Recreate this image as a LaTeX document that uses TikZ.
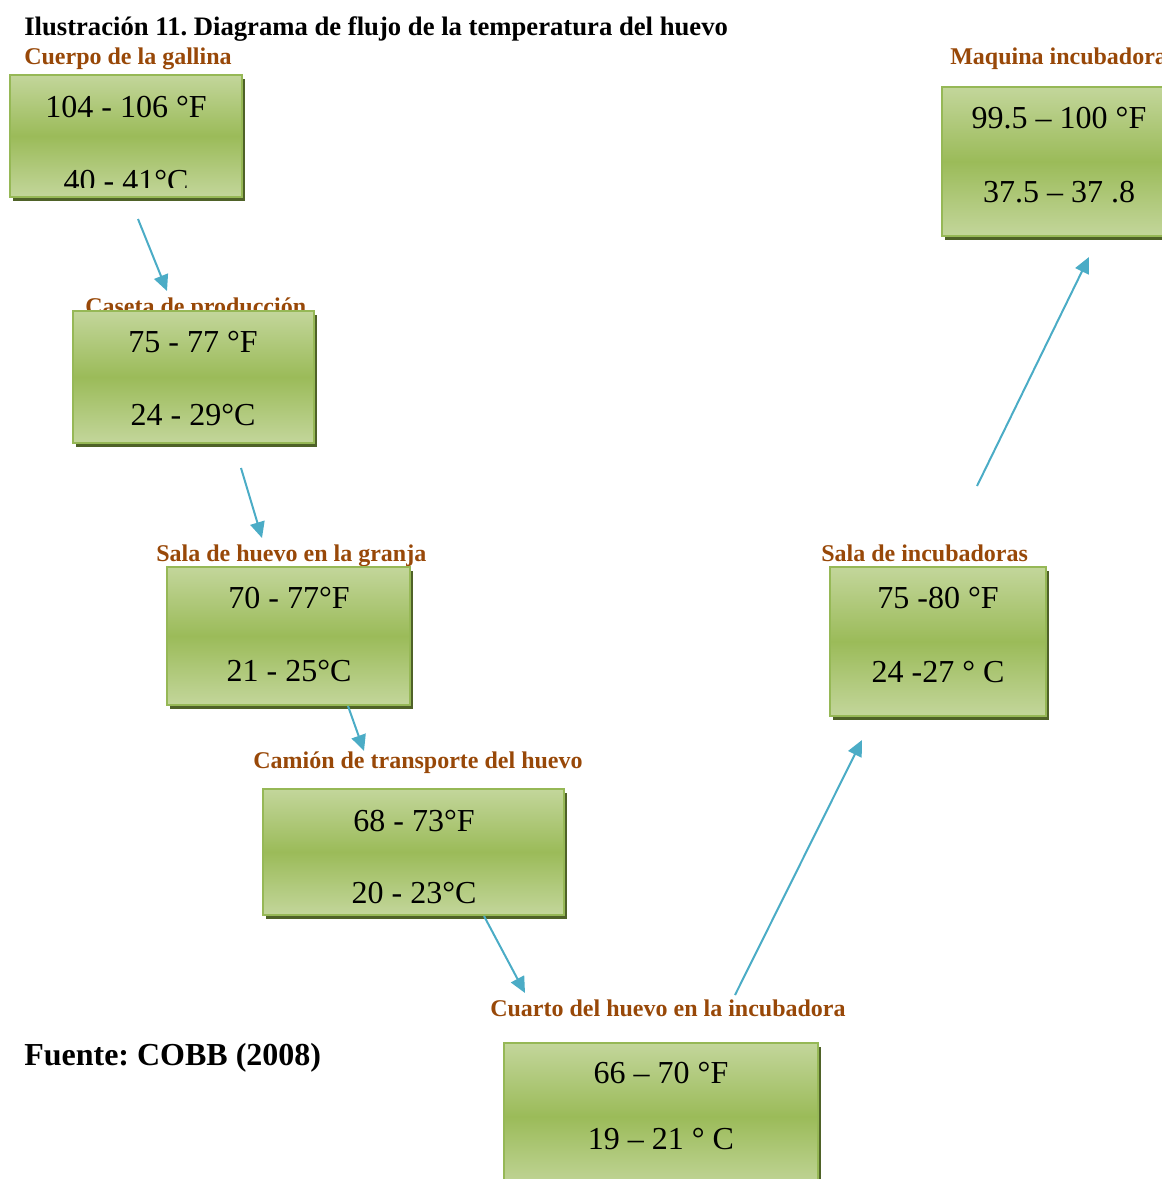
\documentclass[tikz,border=0pt]{standalone}
\usepackage{fontspec}
\setmainfont{Liberation Serif}
\frenchspacing
\usetikzlibrary{arrows.meta,fit,shadows}
\definecolor{brownlbl}{RGB}{152,72,8}
\definecolor{glight}{RGB}{195,214,155}
\definecolor{gdark}{RGB}{155,187,89}
\definecolor{gborder}{RGB}{150,184,86}
\definecolor{gshadow}{RGB}{79,98,40}
\definecolor{arrowc}{RGB}{75,172,198}
\tikzset{
  greenbox/.style={draw=gborder, line width=1.5pt, top color=glight, bottom color=glight, middle color=gdark, inner sep=0pt,
    drop shadow={shadow xshift=2.5pt, shadow yshift=-3pt, fill=gshadow, opacity=1}},
  boxlabel/.style={font=\fontsize{18}{20}\selectfont\bfseries, text=brownlbl, anchor=base west, inner sep=0pt},
  valtext/.style={font=\fontsize{24}{26}\selectfont, anchor=base, inner sep=0pt},
  flow/.style={draw=arrowc, line width=1.5pt, -{Triangle[length=12pt,width=11pt]}},
}
\begin{document}
\begin{tikzpicture}[x=0.75pt,y=-0.75pt]
\useasboundingbox (0,0) rectangle (1162,1179);
\clip (0,0) rectangle (1162,1179);
% title and source
\node[anchor=base west, inner sep=0pt, font=\fontsize{20}{22}\selectfont\bfseries] (title) at (24,35) {Ilustración 11. Diagrama de flujo de la temperatura del huevo};
\node[anchor=base west, inner sep=0pt, font=\fontsize{24}{27}\selectfont\bfseries] (fuente) at (24,1065) {Fuente: COBB (2008)};
% labels
\node[boxlabel] (l1) at (24,64) {Cuerpo de la gallina};
\node[boxlabel] (l2) at (85,314) {Caseta de producción};
\node[boxlabel] (l3) at (156,561) {Sala de huevo en la granja};
\node[boxlabel] (l4) at (253,768) {Camión de transporte del huevo};
\node[boxlabel] (l5) at (490,1016) {Cuarto del huevo en la incubadora};
\node[boxlabel] (l6) at (821,561) {Sala de incubadoras};
\node[boxlabel] (l7) at (950,64) {Maquina incubadora};
% boxes
\node[greenbox, fit={(10,75) (242,197)}] (b1) {};
\node[greenbox, fit={(73,311) (314,443)}] (b2) {};
\node[greenbox, fit={(167,567) (410,705)}] (b3) {};
\node[greenbox, fit={(263,789) (564,915)}] (b4) {};
\node[greenbox, fit={(504,1043) (818,1190)}] (b5) {};
\node[greenbox, fit={(830,567) (1046,716)}] (b6) {};
\node[greenbox, fit={(942,87) (1178,236)}] (b7) {};
% values
\node[valtext] (v1a) at (126,117) {104 - 106 °F};
\begin{scope}
\clip (10,75) rectangle (242,187);
\node[valtext] (v1b) at (126,191) {40 - 41°C};
\end{scope}
\node[valtext] (v2a) at (193,352) {75 - 77 °F};
\node[valtext] (v2b) at (193,425) {24 - 29°C};
\node[valtext] (v3a) at (289,608) {70 - 77°F};
\node[valtext] (v3b) at (289,681) {21 - 25°C};
\node[valtext] (v4a) at (414,831) {68 - 73°F};
\node[valtext] (v4b) at (414,903) {20 - 23°C};
\node[valtext] (v5a) at (661,1083) {66 – 70 °F};
\node[valtext] (v5b) at (661,1149) {19 – 21 ° C};
\node[valtext] (v6a) at (938,608) {75 -80 °F};
\node[valtext] (v6b) at (938,682) {24 -27 ° C};
\node[valtext] (v7a) at (1059,128) {99.5 – 100 °F};
\node[valtext] (v7b) at (1059,202) {37.5 – 37 .8};
% arrows
\coordinate (a1s) at (138,219); \coordinate (a1e) at (167,291);
\coordinate (a2s) at (241,468); \coordinate (a2e) at (262,538);
\coordinate (a3s) at (348,706); \coordinate (a3e) at (364,751);
\coordinate (a4s) at (484,916); \coordinate (a4e) at (525,993);
\coordinate (a5s) at (735,995); \coordinate (a5e) at (862,740);
\coordinate (a6s) at (977,486); \coordinate (a6e) at (1089,257);
\draw[flow] (a1s) -- (a1e);
\draw[flow] (a2s) -- (a2e);
\draw[flow] (a3s) -- (a3e);
\draw[flow] (a4s) -- (a4e);
\draw[flow] (a5s) -- (a5e);
\draw[flow] (a6s) -- (a6e);
\end{tikzpicture}
\end{document}
